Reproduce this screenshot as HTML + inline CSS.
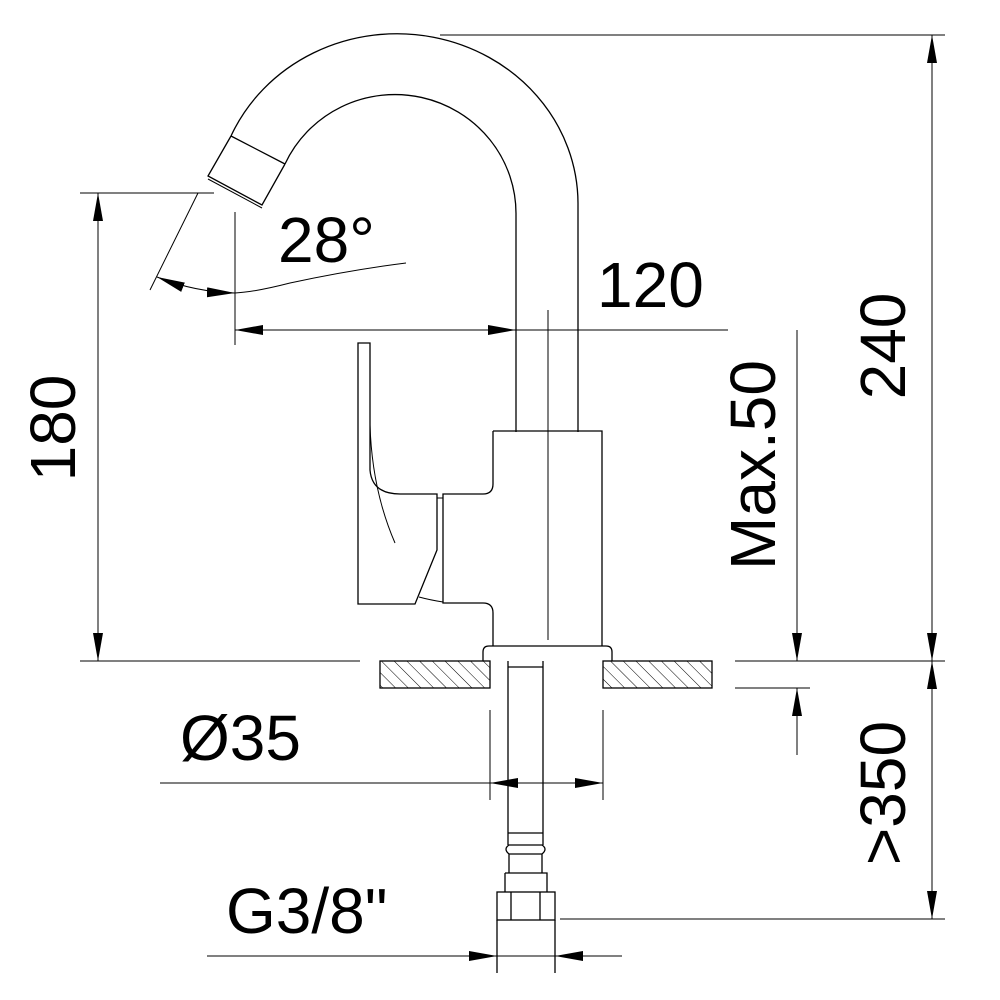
<!DOCTYPE html>
<html><head><meta charset="utf-8"><style>html,body{margin:0;padding:0;background:#fff}svg{display:block}</style></head>
<body>
<svg width="1000" height="1000" viewBox="0 0 1000 1000" xmlns="http://www.w3.org/2000/svg">
<defs>
<marker id="a" viewBox="0 0 28 10" refX="28" refY="5" markerWidth="28" markerHeight="10" markerUnits="userSpaceOnUse" orient="auto-start-reverse"><path d="M0,0L28,5L0,10z" fill="#000"/></marker>
<pattern id="h" width="9" height="9" patternUnits="userSpaceOnUse" patternTransform="rotate(-45)"><line x1="0" y1="0" x2="0" y2="9" stroke="#000" stroke-width="1"/></pattern>
</defs>
<g fill="none" stroke="#000" stroke-width="1.3">
<path d="M578,432 L578,203 A181,170 0 0 0 231,136"/>
<path d="M516,432 L516,215 A121,119 0 0 0 285,164"/>
<path d="M231,136 L285,164 M231,136 L208,176 L262,205 L285,164"/>
<path d="M208,179 L262,208" stroke-width="1"/>
<path d="M493,431 L602,431 L602,646 M493,431 L493,484 Q493,494 483,494 L443,494 L443,603 L483,603 Q493,603 493,613 L493,646"/>
<path d="M358,343 L370,343 L370,470 Q372,494 400,494 L437,494 L437,550 L415,604 L358,604 Z"/>
<path d="M370,425 Q372,490 395,543" stroke-width="1"/>
<path d="M419,597 Q430,600 443,602" stroke-width="1"/>
<path d="M437,498 L443,498" stroke-width="1"/>
<path d="M483,661 L483,652 Q483,646 489,646 L606,646 Q612,646 612,652 L612,661"/>
<rect x="380" y="661" width="110" height="27" fill="url(#h)"/>
<rect x="603" y="661" width="109" height="27" fill="url(#h)"/>
<path d="M508,661 L508,845 M543,661 L543,845 M508,667 L543,667"/>
<path d="M508,833 L543,833 M509,845 L542,845 Q548,849 542,854 L509,854 Q503,849 509,845 Z M509,854 L509,873 M542,854 L542,873 M505,873 L547,873 L547,892 M505,873 L505,892"/>
<rect x="497" y="892" width="58" height="28"/>
<path d="M511,892 L511,920 M540,892 L540,920 M497,920 L497,973 M555,920 L555,973"/>
</g>
<g fill="none" stroke="#000" stroke-width="1">
<path d="M548,310 L548,640"/>
<path d="M80,193 L214,193 M80,661 L360,661 M735,661 L945,661 M735,688 L810,688 M440,35 L945,35 M560,919 L945,919"/>
<path d="M235,212 L235,345 M150,290 L198,193 M490,710 L490,800 M603,710 L603,800"/>
<path d="M98,193 L98,661" marker-start="url(#a)" marker-end="url(#a)"/>
<path d="M932,35 L932,661" marker-start="url(#a)" marker-end="url(#a)"/>
<path d="M932,661 L932,919" marker-start="url(#a)" marker-end="url(#a)"/>
<path d="M797,330 L797,661" marker-end="url(#a)"/>
<path d="M797,755 L797,688" marker-end="url(#a)"/>
<path d="M235,330 L516,330" marker-start="url(#a)" marker-end="url(#a)"/>
<path d="M516,330 L728,330"/>
<path d="M160,783 L490,783"/>
<path d="M490,783 L603,783" marker-start="url(#a)" marker-end="url(#a)"/>
<path d="M207,956 L497,956" marker-end="url(#a)"/>
<path d="M622,956 L555,956" marker-end="url(#a)"/>
<path d="M497,956 L555,956"/>
<path d="M157,277 Q195,292 235,293" marker-start="url(#a)" marker-end="url(#a)"/>
<path d="M235,293 Q255,292 290,283 Q350,270 406,263"/>
</g>
<g font-family="Liberation Sans, Arial, sans-serif" font-size="64" fill="#000">
<text x="278" y="262">28°</text>
<text x="597" y="307">120</text>
<text x="180" y="760">Ø35</text>
<text x="226" y="933">G3/8"</text>
<text transform="translate(75,428) rotate(-90)" text-anchor="middle">180</text>
<text transform="translate(905,346) rotate(-90)" text-anchor="middle">240</text>
<text transform="translate(775,465) rotate(-90)" text-anchor="middle">Max.50</text>
<text transform="translate(905,793) rotate(-90)" text-anchor="middle">&gt;350</text>
</g>
</svg>
</body></html>
